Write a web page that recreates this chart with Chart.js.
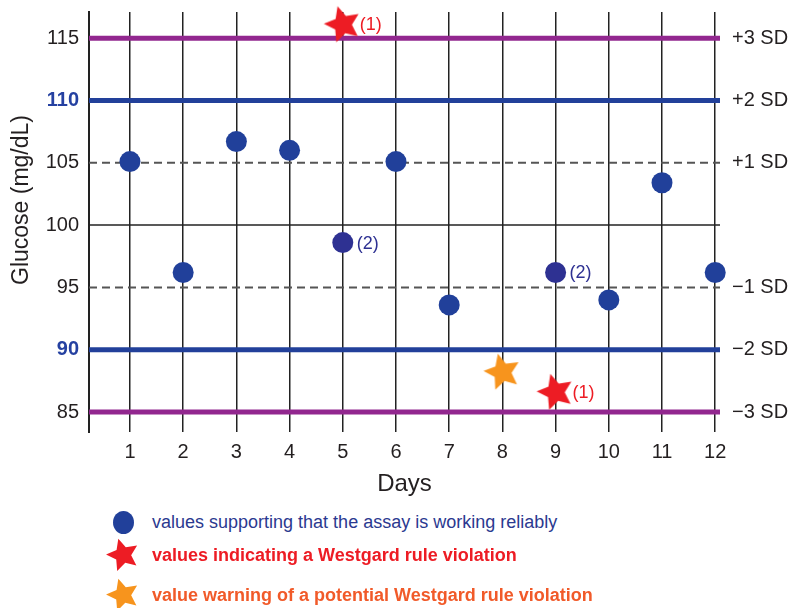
<!DOCTYPE html>
<html lang="en">
<head>
    <meta charset="UTF-8">
    <title>Glucose QC Levey-Jennings Chart</title>
    <script src="https://cdn.jsdelivr.net/npm/chart.js"></script>
    <style>
        body {
            margin: 0;
            background: #fff;
            font-family: 'Liberation Sans', Arial, sans-serif;
        }

        .page {
            position: relative;
            width: 797px;
            height: 608px;
            overflow: hidden;
        }

        #qcChart {
            position: absolute;
            left: 0;
            top: 0;
        }

        /* Legend under the chart */
        .legend-row {
            position: absolute;
            left: 106px;
            height: 34px;
            display: flex;
            align-items: center;
            font-size: 18px;
            white-space: nowrap;
        }

        .legend-icon {
            width: 34px;
            height: 34px;
            display: flex;
            align-items: center;
            justify-content: center;
            margin-right: 12px;
        }

        .dot {
            width: 21px;
            height: 23px;
            border-radius: 50%;
            background: #21409A;
        }
    </style>
</head>
<body>
    <div class="page">
        <canvas id="qcChart" width="797" height="501"></canvas>

        <div class="legend-row" style="top: 505px; color: #2B3990;">
            <div class="legend-icon"><div class="dot"></div></div>
            <span>values supporting that the assay is working reliably</span>
        </div>
        <div class="legend-row" style="top: 538px; color: #ED1C24; font-weight: bold;">
            <div class="legend-icon" id="iconRed"></div>
            <span>values indicating a Westgard rule violation</span>
        </div>
        <div class="legend-row" style="top: 578px; color: #F15A29; font-weight: bold;">
            <div class="legend-icon" id="iconOrange"></div>
            <span>value warning of a potential Westgard rule violation</span>
        </div>
    </div>

    <script>
        // ---- data ----
        const days = [1, 2, 3, 4, 5, 6, 7, 8, 9, 10, 11, 12];

        const okDays = [1, 2, 3, 4, 6, 7, 10, 11, 12];
        const okValues = [105.1, 96.2, 106.7, 106.0, 105.1, 93.6, 94.0, 103.4, 96.2];

        const flagDays = [5, 9];
        const flagValues = [98.6, 96.2];
        const flagNotes = ['(2)', '(2)'];

        const violationDays = [5, 9];
        const violationValues = [116.1, 86.6];
        const violationNotes = ['(1)', '(1)'];

        const warningDays = [8];
        const warningValues = [88.2];

        const levels = [115, 110, 105, 100, 95, 90, 85];
        const sdLabels = ['+3 SD', '+2 SD', '+1 SD', '', '\u22121 SD', '\u22122 SD', '\u22123 SD'];

        const xMin = 0.23, xMax = 12.09;
        const yMin = 83.4, yMax = 117.1;

        const FONT = "'Liberation Sans', Arial, sans-serif";
        const INK = '#231F20';

        function toPoints(xs, ys) {
            return xs.map((x, i) => ({ x: x, y: ys[i] }));
        }

        // filled 5-point star, slightly tilted like the original artwork
        function starImage(color, r, tilt) {
            const size = Math.ceil(r * 2 + 4);
            const c = document.createElement('canvas');
            c.width = c.height = size;
            const g = c.getContext('2d');
            g.translate(size / 2, size / 2);
            g.rotate(tilt * Math.PI / 180);
            g.beginPath();
            for (let k = 0; k < 10; k++) {
                const rad = k % 2 ? r * 0.48 : r;
                const a = -Math.PI / 2 + k * Math.PI / 5;
                g.lineTo(rad * Math.cos(a), rad * Math.sin(a));
            }
            g.closePath();
            g.fillStyle = color;
            g.fill();
            return c;
        }

        document.getElementById('iconRed').appendChild(starImage('#ED1C24', 17, -16));
        document.getElementById('iconOrange').appendChild(starImage('#F7941D', 17, -16));

        function levelStyle(v) {
            const d = Math.abs(v - 100);
            if (d === 15) return { color: '#92278F', width: 5, dash: [] };
            if (d === 10) return { color: '#22409A', width: 5, dash: [] };
            if (d === 5) return { color: '#555', width: 2, dash: [8, 5] };
            return { color: '#222', width: 1.5, dash: [] };
        }

        function isTwoSD(c) {
            return !!(c && c.tick && Math.abs(c.tick.value - 100) === 10);
        }

        // fixed axis boxes so the plot area sits where the original one does
        function fixBox(size) {
            return s => {
                if (s.isHorizontal()) s.height = size; else s.width = size;
                s.paddingTop = 0;
                s.paddingBottom = 0;
                s.paddingLeft = 0;
                s.paddingRight = 0;
            };
        }

        const levelSets = levels.map(v => {
            const s = levelStyle(v);
            return {
                type: 'line',
                data: [{ x: xMin, y: v }, { x: xMax, y: v }],
                showLine: true,
                borderColor: s.color,
                borderWidth: s.width,
                borderDash: s.dash,
                borderCapStyle: 'butt',
                pointRadius: 0,
                order: 5
            };
        });

        // "(1)" / "(2)" notes beside the marked points
        const notesPlugin = {
            id: 'notes',
            afterDatasetsDraw(chart) {
                const ctx = chart.ctx;
                chart.data.datasets.forEach((ds, i) => {
                    if (!ds.notes) return;
                    const meta = chart.getDatasetMeta(i);
                    meta.data.forEach((pt, j) => {
                        ctx.save();
                        ctx.font = '18px ' + FONT;
                        ctx.fillStyle = ds.noteColor;
                        ctx.textBaseline = 'middle';
                        ctx.fillText(ds.notes[j], pt.x + ds.noteGap, pt.y + 1);
                        ctx.restore();
                    });
                });
            }
        };

        // rotated y title, placed like the original (a bit above centre)
        const yTitlePlugin = {
            id: 'yTitle',
            afterDraw(chart) {
                const ctx = chart.ctx;
                ctx.save();
                ctx.translate(22, 200);
                ctx.rotate(-Math.PI / 2);
                ctx.font = '23px ' + FONT;
                ctx.fillStyle = INK;
                ctx.textAlign = 'center';
                ctx.textBaseline = 'middle';
                ctx.fillText('Glucose (mg/dL)', 0, 0);
                ctx.restore();
            }
        };

        const ctx = document.getElementById('qcChart').getContext('2d');

        new Chart(ctx, {
            type: 'scatter',
            data: {
                datasets: [
                    {
                        data: toPoints(violationDays, violationValues),
                        pointStyle: starImage('#ED1C24', 19, -16),
                        notes: violationNotes,
                        noteColor: '#ED1C24',
                        noteGap: 17,
                        clip: false,
                        order: 0
                    },
                    {
                        data: toPoints(warningDays, warningValues),
                        pointStyle: starImage('#F7941D', 19, -14),
                        clip: false,
                        order: 1
                    },
                    {
                        data: toPoints(flagDays, flagValues),
                        pointRadius: 10.5,
                        backgroundColor: '#2E3192',
                        borderWidth: 0,
                        notes: flagNotes,
                        noteColor: '#2E3192',
                        noteGap: 14,
                        clip: false,
                        order: 2
                    },
                    {
                        data: toPoints(okDays, okValues),
                        pointRadius: 10.5,
                        backgroundColor: '#21409A',
                        borderWidth: 0,
                        clip: false,
                        order: 3
                    },
                    ...levelSets
                ]
            },
            options: {
                responsive: false,
                animation: false,
                events: [],
                layout: {
                    autoPadding: false,
                    padding: { top: 12, left: 0, right: 0, bottom: 0 }
                },
                plugins: {
                    legend: { display: false },
                    tooltip: { enabled: false }
                },
                scales: {
                    x: {
                        type: 'linear',
                        min: xMin,
                        max: xMax,
                        afterBuildTicks: s => { s.ticks = days.map(v => ({ value: v })); },
                        afterFit: fixBox(69),
                        grid: { color: '#222', lineWidth: 1.5, drawTicks: false },
                        border: { display: false },
                        ticks: {
                            padding: 8,
                            color: INK,
                            font: { family: FONT, size: 20 }
                        },
                        title: {
                            display: true,
                            text: 'Days',
                            color: INK,
                            font: { family: FONT, size: 24 },
                            padding: { top: 4, bottom: 2 }
                        }
                    },
                    y: {
                        min: yMin,
                        max: yMax,
                        afterBuildTicks: s => { s.ticks = levels.map(v => ({ value: v })); },
                        afterFit: fixBox(89),
                        grid: { display: false, drawTicks: false },
                        border: { display: true, color: '#222', width: 2 },
                        ticks: {
                            padding: 10,
                            color: c => (isTwoSD(c) ? '#2541A1' : INK),
                            font: c => ({
                                family: FONT,
                                size: 20,
                                weight: isTwoSD(c) ? 'bold' : 'normal'
                            })
                        }
                    },
                    y2: {
                        position: 'right',
                        min: yMin,
                        max: yMax,
                        afterBuildTicks: s => { s.ticks = levels.map(v => ({ value: v })); },
                        afterFit: fixBox(77),
                        grid: { display: false, drawTicks: false },
                        border: { display: false },
                        ticks: {
                            padding: 12,
                            color: INK,
                            font: { family: FONT, size: 20 },
                            callback: (v, i) => sdLabels[i]
                        }
                    }
                }
            },
            plugins: [notesPlugin, yTitlePlugin]
        });
    </script>
</body>
</html>
